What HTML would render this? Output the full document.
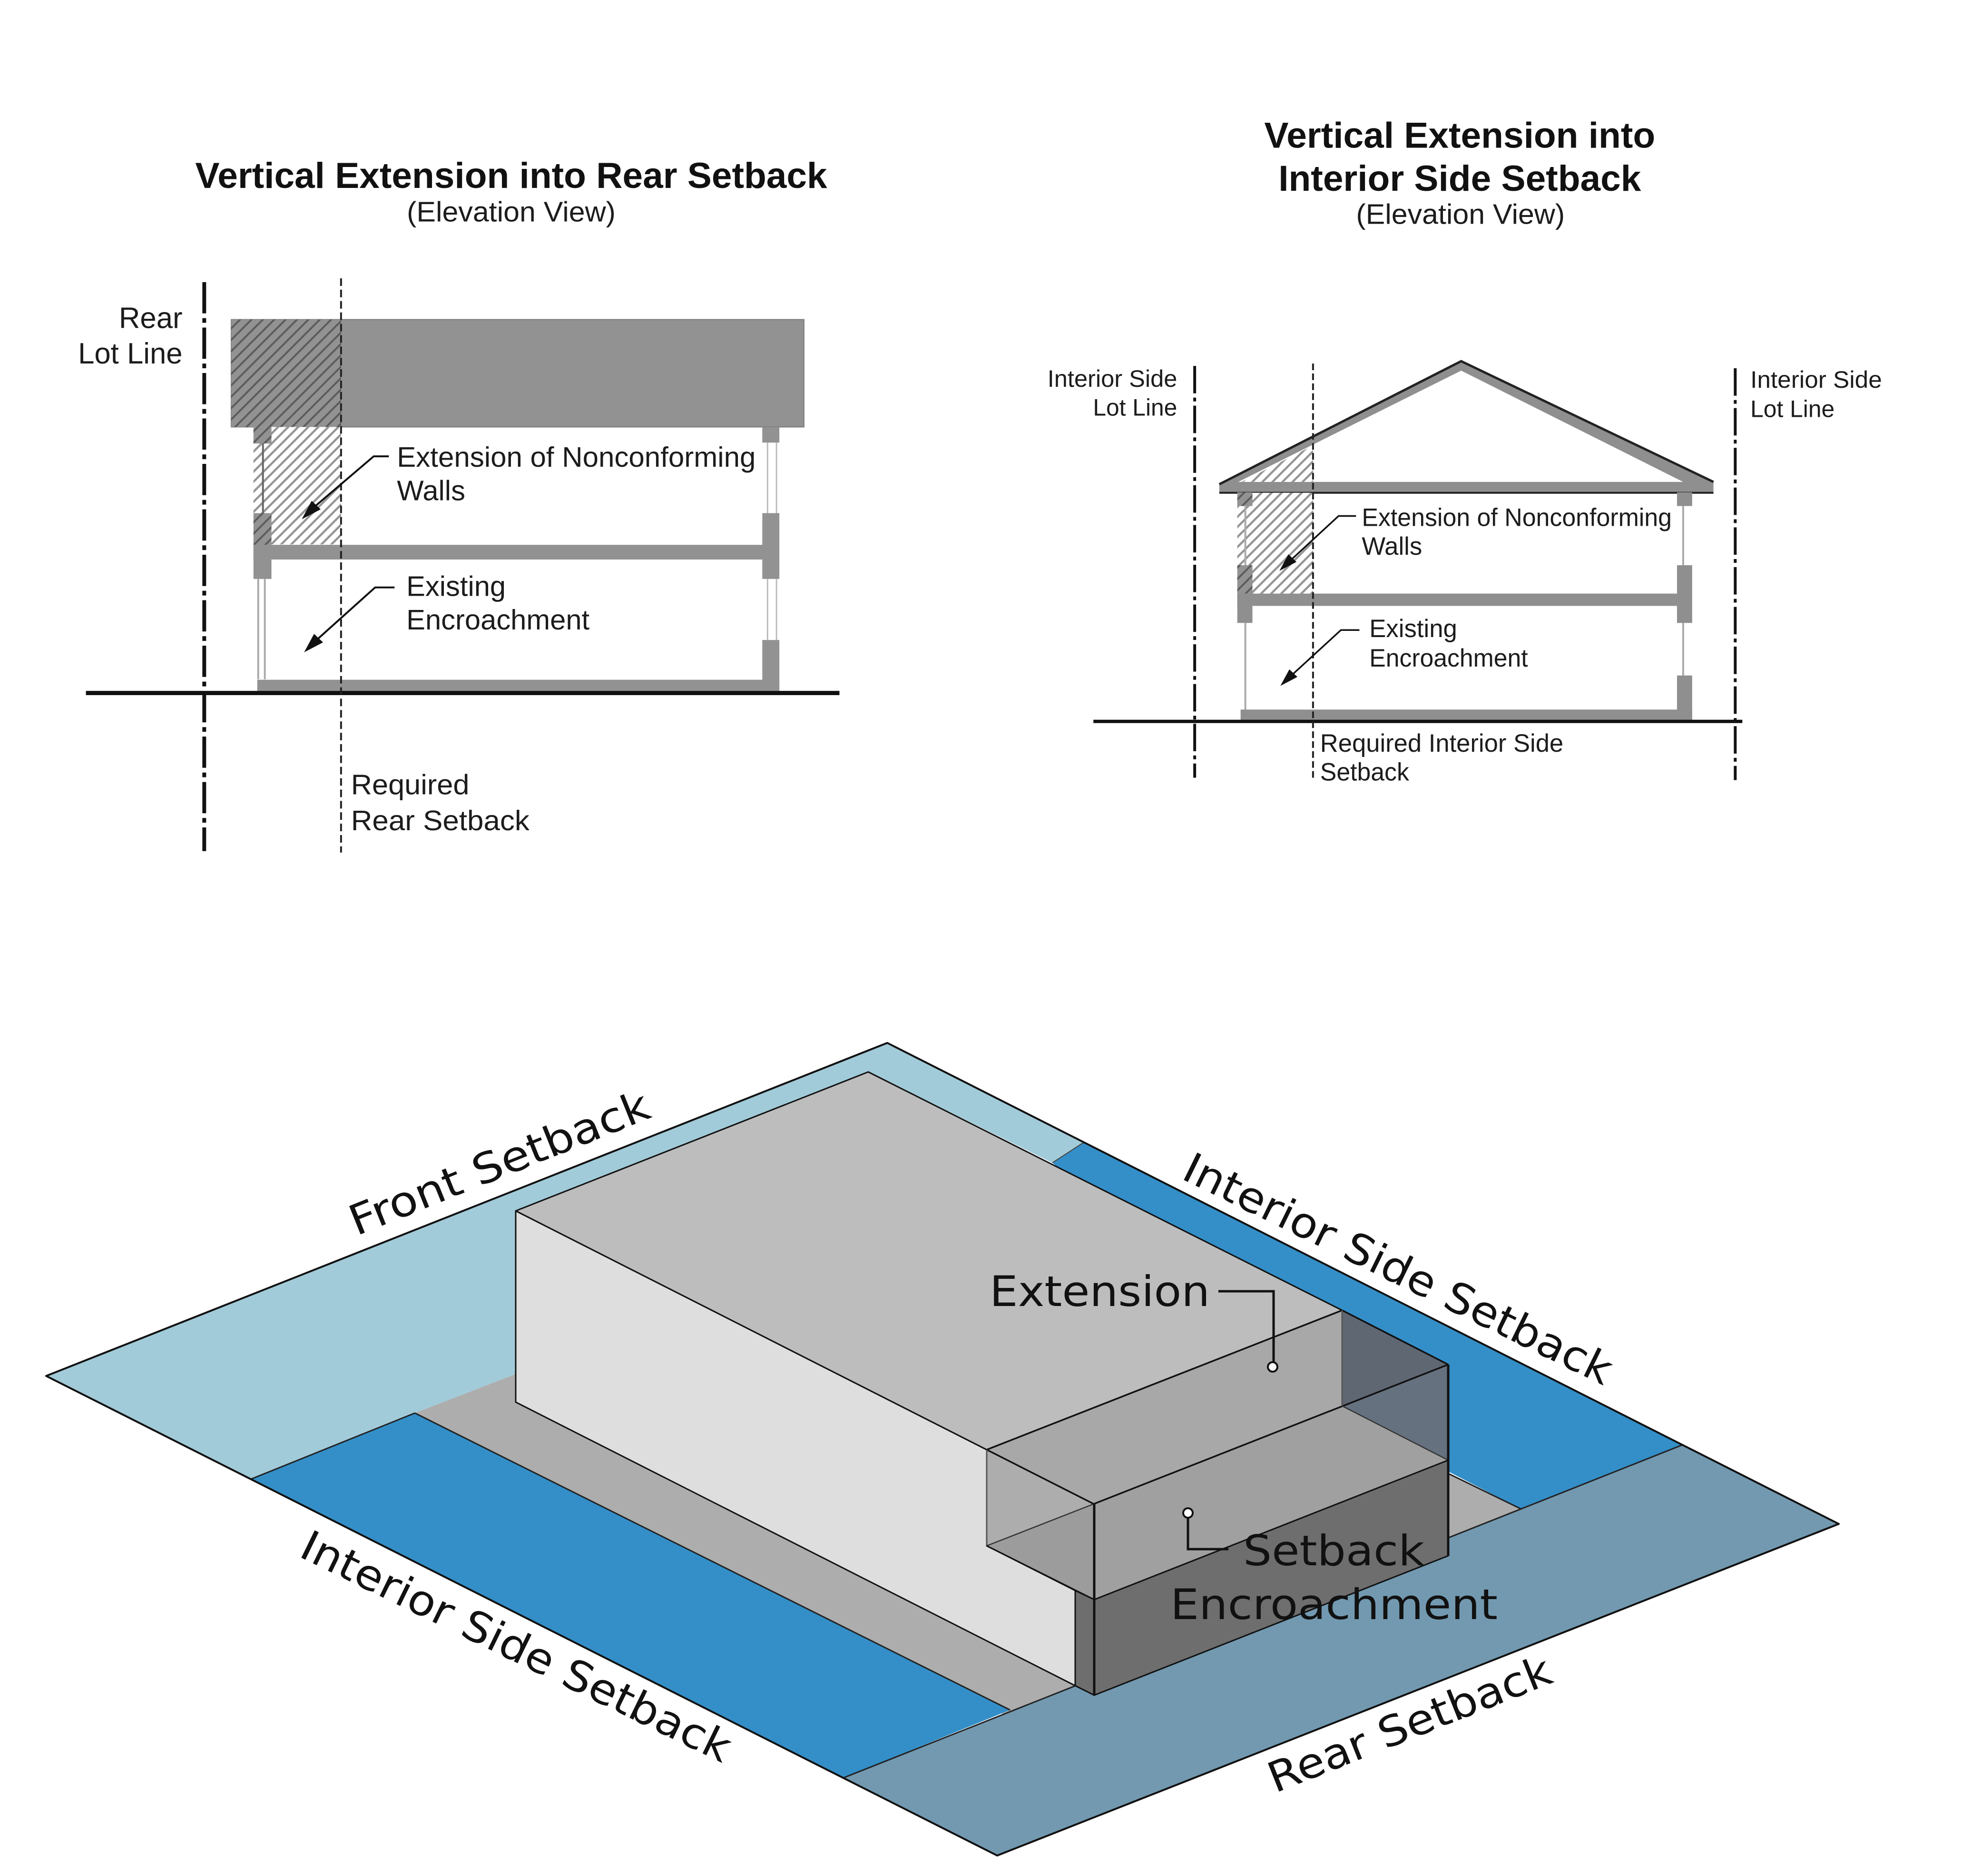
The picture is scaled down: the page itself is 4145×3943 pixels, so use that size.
<!DOCTYPE html>
<html><head><meta charset="utf-8">
<style>
html,body{margin:0;padding:0;background:#fff}
svg{display:block}
.t{font-family:"Liberation Sans",sans-serif;fill:#1c1c1c}
.b{font-weight:bold;font-size:76px;fill:#111}
.iso{font-family:"DejaVu Sans","Liberation Sans",sans-serif;font-size:88px;fill:#111}
</style></head><body>
<svg xmlns="http://www.w3.org/2000/svg" width="4145" height="3943" viewBox="0 0 4145 3943">
<defs>
<pattern id="hd" width="17" height="17" patternUnits="userSpaceOnUse" patternTransform="rotate(-45)"><rect width="17" height="17" fill="#929292"/><rect width="17" height="4" fill="#5c5c5c"/></pattern>
<pattern id="hl" width="15" height="15" patternUnits="userSpaceOnUse" patternTransform="rotate(-45)"><rect width="15" height="15" fill="#fff"/><rect width="15" height="4.5" fill="#959595"/></pattern>
</defs>
<rect width="4145" height="3943" fill="#fff"/>

<!-- LEFT ELEVATION -->
<g transform="translate(100 200) scale(.9949) translate(-100 -200)">
<text class="t b" x="412" y="396" textLength="1335" lengthAdjust="spacingAndGlyphs">Vertical Extension into Rear Setback</text>
<text class="t" x="859" y="467" font-size="60" textLength="441" lengthAdjust="spacingAndGlyphs">(Elevation View)</text>

<rect x="488" y="674" width="1210" height="227" fill="#929292" stroke="#777" stroke-width="2"/>
<rect x="488" y="674" width="232" height="227" fill="url(#hd)"/>
<rect x="535" y="901" width="185" height="248" fill="url(#hl)"/>
<rect x="535" y="901" width="38" height="35" fill="url(#hd)"/>
<rect x="1610" y="901" width="36" height="33" fill="#929292"/>
<rect x="535" y="1083" width="38" height="67" fill="url(#hd)"/>
<rect x="535" y="1150" width="38" height="72" fill="#929292"/>
<rect x="1610" y="1083" width="36" height="139" fill="#929292"/>
<rect x="535" y="1150" width="1090" height="31" fill="#929292"/>
<path d="M555 936V1083" stroke="#666" stroke-width="4" fill="none"/>
<path d="M1621 934V1083M1640 934V1083" stroke="#bbb" stroke-width="3" fill="none"/>
<path d="M545 1222V1434M559 1222V1434" stroke="#aaa" stroke-width="4" fill="none"/>
<path d="M1621 1222V1351M1640 1222V1351" stroke="#bbb" stroke-width="3" fill="none"/>
<rect x="1610" y="1351" width="36" height="108" fill="#929292"/>
<rect x="543" y="1435" width="1103" height="26" fill="#929292"/>

<path d="M181 1463H1773" stroke="#111" stroke-width="9" fill="none"/>
<path d="M431 595V1797" stroke="#111" stroke-width="8" stroke-dasharray="66 10 10 10" fill="none"/>
<path d="M720 587V1800" stroke="#222" stroke-width="4" stroke-dasharray="16 8" fill="none"/>

<path d="M821 963H789L660 1073" stroke="#111" stroke-width="4" fill="none"/>
<path d="M637 1096L658 1057L677 1075Z" fill="#111"/>
<path d="M833 1240H792L665 1354" stroke="#111" stroke-width="4" fill="none"/>
<path d="M642 1377L663 1338L682 1356Z" fill="#111"/>

<text class="t" x="838" y="985" font-size="60" textLength="758" lengthAdjust="spacingAndGlyphs">Extension of Nonconforming</text>
<text class="t" x="838" y="1056" font-size="60">Walls</text>
<text class="t" x="858" y="1258" font-size="60">Existing</text>
<text class="t" x="858" y="1329" font-size="60" textLength="387" lengthAdjust="spacingAndGlyphs">Encroachment</text>
<text class="t" x="385" y="692" font-size="62" text-anchor="end">Rear</text>
<text class="t" x="385" y="767" font-size="62" text-anchor="end">Lot Line</text>
<text class="t" x="741" y="1677" font-size="60" textLength="250" lengthAdjust="spacingAndGlyphs">Required</text>
<text class="t" x="741" y="1753" font-size="60" textLength="377" lengthAdjust="spacingAndGlyphs">Rear Setback</text>
</g>

<!-- RIGHT ELEVATION -->
<g transform="translate(2150 200) scale(.9949) translate(-2150 -200)">
<text class="t b" x="2660" y="311" textLength="826" lengthAdjust="spacingAndGlyphs">Vertical Extension into</text>
<text class="t b" x="2690" y="402" textLength="766" lengthAdjust="spacingAndGlyphs">Interior Side Setback</text>
<text class="t" x="2854" y="472" font-size="60" textLength="441" lengthAdjust="spacingAndGlyphs">(Elevation View)</text>

<path d="M2565 1022L3076 762L3609 1017V1040H2565Z M2605 1017H3545L3076 782Z" fill="#8f8f8f" fill-rule="evenodd"/>
<path d="M2612 1017L2763 940V1017Z" fill="url(#hl)"/>
<path d="M2565 1022L3076 762L3609 1017" stroke="#222" stroke-width="5" fill="none"/>
<path d="M2565 1040H3609" stroke="#222" stroke-width="4" fill="none"/>
<rect x="2603" y="1040" width="160" height="213" fill="url(#hl)"/>
<rect x="2603" y="1039" width="32" height="29" fill="url(#hd)"/>
<rect x="3532" y="1039" width="32" height="29" fill="#8f8f8f"/>
<rect x="2603" y="1193" width="32" height="60" fill="url(#hd)"/>
<rect x="2603" y="1253" width="32" height="62" fill="#8f8f8f"/>
<rect x="3532" y="1193" width="32" height="122" fill="#8f8f8f"/>
<rect x="2603" y="1253" width="950" height="26" fill="#8f8f8f"/>
<path d="M2620 1068V1193M3545 1068V1193M2620 1315V1498M3545 1315V1426" stroke="#aaa" stroke-width="4" fill="none"/>
<rect x="3532" y="1426" width="32" height="93" fill="#8f8f8f"/>
<rect x="2610" y="1498" width="954" height="22" fill="#8f8f8f"/>

<path d="M2299 1523H3670" stroke="#111" stroke-width="7" fill="none"/>
<path d="M2513 772V1642" stroke="#111" stroke-width="6" stroke-dasharray="58 9 8 9" fill="none"/>
<path d="M3655 777V1647" stroke="#111" stroke-width="6" stroke-dasharray="58 9 8 9" fill="none"/>
<path d="M2763 767V1647" stroke="#222" stroke-width="4" stroke-dasharray="14 7" fill="none"/>

<path d="M2854 1089H2817L2712 1186" stroke="#111" stroke-width="3.5" fill="none"/>
<path d="M2692 1205L2711 1170L2728 1186Z" fill="#111"/>
<path d="M2861 1330H2822L2714 1429" stroke="#111" stroke-width="3.5" fill="none"/>
<path d="M2694 1448L2713 1413L2730 1429Z" fill="#111"/>

<text class="t" x="2866" y="1110" font-size="53" textLength="655" lengthAdjust="spacingAndGlyphs">Extension of Nonconforming</text>
<text class="t" x="2866" y="1171" font-size="53">Walls</text>
<text class="t" x="2882" y="1345" font-size="53">Existing</text>
<text class="t" x="2882" y="1407" font-size="53" textLength="335" lengthAdjust="spacingAndGlyphs">Encroachment</text>
<text class="t" x="2202" y="816" font-size="50" textLength="274" lengthAdjust="spacingAndGlyphs">Interior Side</text>
<text class="t" x="2476" y="877" font-size="50" text-anchor="end">Lot Line</text>
<text class="t" x="3687" y="818" font-size="50" textLength="278" lengthAdjust="spacingAndGlyphs">Interior Side</text>
<text class="t" x="3687" y="880" font-size="50">Lot Line</text>
<text class="t" x="2778" y="1587" font-size="53" textLength="514" lengthAdjust="spacingAndGlyphs">Required Interior Side</text>
<text class="t" x="2778" y="1648" font-size="53" textLength="188" lengthAdjust="spacingAndGlyphs">Setback</text>
</g>

<!-- ISOMETRIC -->
<g stroke-linejoin="round">
<path d="M1865 2192L97 2892L527 3109L872 2970L1084 2888V2545L1825 2253L2212 2444L2278 2401Z" fill="#a2cbd9"/>
<path d="M872 2970L1084 2888L2300 3400L3044 3097L3198 3172L3210 3185L2123 3610Z" fill="#adadad"/>
<path d="M2278 2401L3536 3037L3198 3172L3000 3070L2212 2444Z" fill="#348fc8"/>
<path d="M527 3109L872 2970L2123 3594L1772 3737Z" fill="#348fc8"/>
<path d="M3536 3037L3865 3203L2096 3900L1772 3737Z" fill="#7299b0"/>
<path d="M527 3109L872 2970M3536 3037L1772 3737M872 2970L2123 3594M3044 3097L3198 3172" stroke="#222" stroke-width="3" fill="none"/>
<path d="M2278 2401L2212 2444" stroke="#444" stroke-width="2" fill="none"/>
<path d="M1865 2192L97 2892L2096 3900L3865 3203Z" fill="none" stroke="#111" stroke-width="4"/>

<path d="M1084 2545L2074 3047V3249L2260 3343V3543L1084 2947Z" fill="#dedede" stroke="#111" stroke-width="3"/>
<path d="M1084 2545L1825 2253L2821 2754L2074 3047Z" fill="#bdbdbd" stroke="#111" stroke-width="3"/>
<path d="M2260 3343L2300 3362L3044 3069V3270L2300 3563L2260 3543Z" fill="#6e6e6e" stroke="#111" stroke-width="3"/>
<path d="M2074 3047L2821 2754V2955L2299 3161Z" fill="#a8a8a8" stroke="none"/>
<path d="M2074 3047L2299 3161L2074 3249Z" fill="#adadad" stroke="none"/>
<path d="M2074 3249L2299 3161L2300 3362Z" fill="#9c9c9c" stroke="none"/>
<path d="M2299 3161L2821 2955L3044 3069L2300 3362Z" fill="#a0a0a0" stroke="none"/>
<path d="M2821 2754L3044 2868L2821 2955Z" fill="#5f6773" stroke="none"/>
<path d="M2821 2955L3044 2868V3069Z" fill="#66717f" stroke="none"/>
<path d="M2074 3047L2821 2754L3044 2868M2074 3047L2299 3161L3044 2868" stroke="#111" stroke-width="3.5" fill="none"/>
<path d="M2074 3047V3249M2821 2754V2955" stroke="#555" stroke-width="3" fill="none"/>
<path d="M2074 3249L2299 3161M2821 2955L3044 3069" stroke="#333" stroke-width="2.5" fill="none"/>
<path d="M2074 3249L2300 3362L3044 3069" stroke="#111" stroke-width="3" fill="none"/>
<path d="M2300 3161V3563M3044 2868V3270" stroke="#111" stroke-width="5" fill="none"/>
<path d="M2260 3343V3543" stroke="#111" stroke-width="3" fill="none"/>
</g>

<path d="M2561 2714H2677V2862" stroke="#111" stroke-width="5" fill="none"/>
<circle cx="2675" cy="2873" r="10" fill="#fff" stroke="#111" stroke-width="4"/>
<path d="M2497 3190V3256H2582" stroke="#111" stroke-width="5" fill="none"/>
<circle cx="2497" cy="3180" r="10" fill="#fff" stroke="#111" stroke-width="4"/>

<text class="iso" x="2080" y="2745" textLength="463" lengthAdjust="spacingAndGlyphs">Extension</text>
<text class="iso" x="2613" y="3290" textLength="381" lengthAdjust="spacingAndGlyphs">Setback</text>
<text class="iso" x="2460" y="3403" textLength="688" lengthAdjust="spacingAndGlyphs">Encroachment</text>
<text class="iso" transform="translate(749 2598) rotate(-21.9)" textLength="672" lengthAdjust="spacingAndGlyphs">Front Setback</text>
<text class="iso" transform="translate(625 3270) rotate(26)" textLength="994" lengthAdjust="spacingAndGlyphs">Interior Side Setback</text>
<text class="iso" transform="translate(2480 2476) rotate(26.1)" textLength="992" lengthAdjust="spacingAndGlyphs">Interior Side Setback</text>
<text class="iso" transform="translate(2680 3769) rotate(-21.7)" textLength="633" lengthAdjust="spacingAndGlyphs">Rear Setback</text>
</svg>
</body></html>
